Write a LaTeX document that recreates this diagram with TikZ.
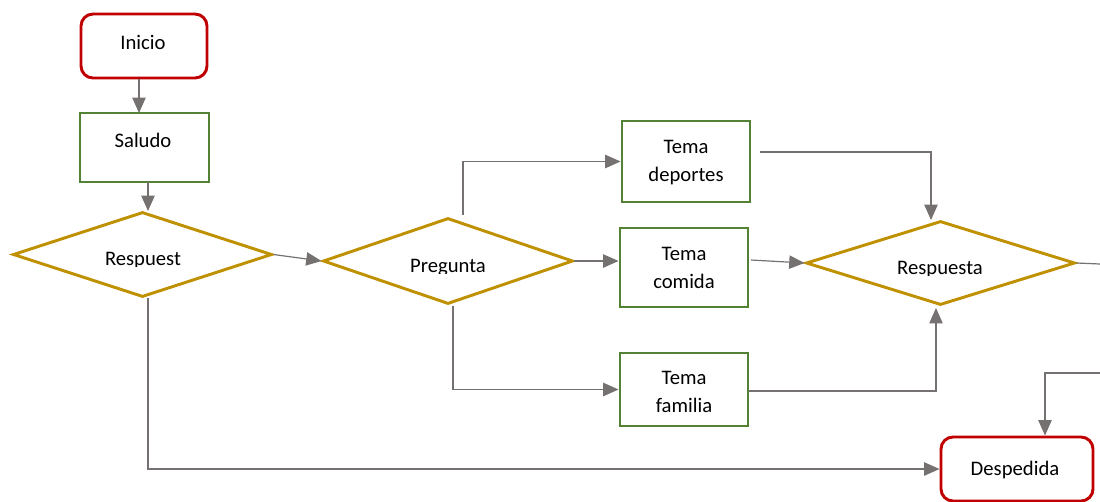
\documentclass[tikz,border=0pt]{standalone}
\usepackage{fontspec}
\setmainfont{Carlito}
\usetikzlibrary{shapes.geometric,arrows.meta,calc}
\definecolor{startred}{HTML}{C00000}
\definecolor{stepgreen}{HTML}{548235}
\definecolor{askgold}{HTML}{BF9000}
\definecolor{linkgray}{HTML}{767171}
\begin{document}
\begin{tikzpicture}[x=0.75pt,y=-0.75pt,
  terminal/.style={draw=startred,line width=2.2pt,rounded corners=9pt,rectangle,inner sep=0pt},
  process/.style={draw=stepgreen,line width=2.2pt,rectangle,inner sep=0pt},
  decision/.style={draw=askgold,line width=2.2pt,diamond,inner sep=0pt},
  label/.style={font=\fontsize{15.5}{20.5}\selectfont,anchor=base,align=center,inner sep=0pt},
  link/.style={draw=linkgray,line width=0.9pt,-{Triangle[length=11.5pt,width=10pt]}},
  plain/.style={draw=linkgray,line width=0.9pt}]
\useasboundingbox (0,0) rectangle (1100,501);

% shapes
\node[terminal,minimum width=94.5pt,minimum height=48pt] (inicio) at (144,46) {};
\node[process,minimum width=96.75pt,minimum height=51.75pt] (saludo) at (144.5,147.5) {};
\node[decision,minimum width=194.25pt,minimum height=63.75pt] (resp1) at (142.5,254.5) {};
\node[decision,minimum width=187.5pt,minimum height=64.5pt] (preg) at (448,261) {};
\node[process,minimum width=96pt,minimum height=60.75pt] (dep) at (686,161.5) {};
\node[process,minimum width=96pt,minimum height=59.25pt] (com) at (684,267.5) {};
\node[process,minimum width=96pt,minimum height=54.75pt] (fam) at (684,389.5) {};
\node[decision,minimum width=201.75pt,minimum height=63pt] (resp2) at (940.5,263) {};
\node[terminal,minimum width=114pt,minimum height=48pt] (desp) at (1017,469) {};

% texts (multi-line labels sit on the baseline of their last line)
\node[label] (tinicio) at (143,49) {Inicio};
\node[label] (tsaludo) at (143,147) {Saludo};
\node[label] (tdep) at (686,181) {Tema\\deportes};
\node[label] (tcom) at (684,288) {Tema\\comida};
\node[label] (tfam) at (684,412) {Tema\\familia};
\node[label] (tdesp) at (1015,475) {Despedida};
\begin{scope}
  \clip (60,230) rectangle (230,266);
  \node[label] (tresp1) at (143,265) {Respuest};
\end{scope}
\begin{scope}
  \clip (380,240) rectangle (520,273);
  \node[label] (tpreg) at (448,272) {Pregunta};
\end{scope}
\begin{scope}
  \clip (870,245) rectangle (1010,275.5);
  \node[label] (tresp2) at (940,274) {Respuesta};
\end{scope}

% connectors
\coordinate (e1) at (1100,264);
\coordinate (e2) at (1100,373);
\draw[link] (139,79) -- (139,113);
\draw[link] (148,182) -- (148,211);
\draw[link] (resp1.east) -- (preg.west);
\draw[link] (463,215) |- (dep.west);
\draw[link] (preg.east) -- (com.west |- preg.east);
\draw[link] (453,306) |- (fam.west);
\draw[link] (760,152) -| (931,220);
\draw[link] (751,260) -- (resp2.west);
\draw[link] ($(fam.east)+(0,1.5)$) -| (936,308);
\draw[plain] (resp2.east) -- (e1);
\draw[link] (e2) -| (desp.north -| 1045,0);
\draw[link] (148,298) |- (desp.west);
\end{tikzpicture}
\end{document}
